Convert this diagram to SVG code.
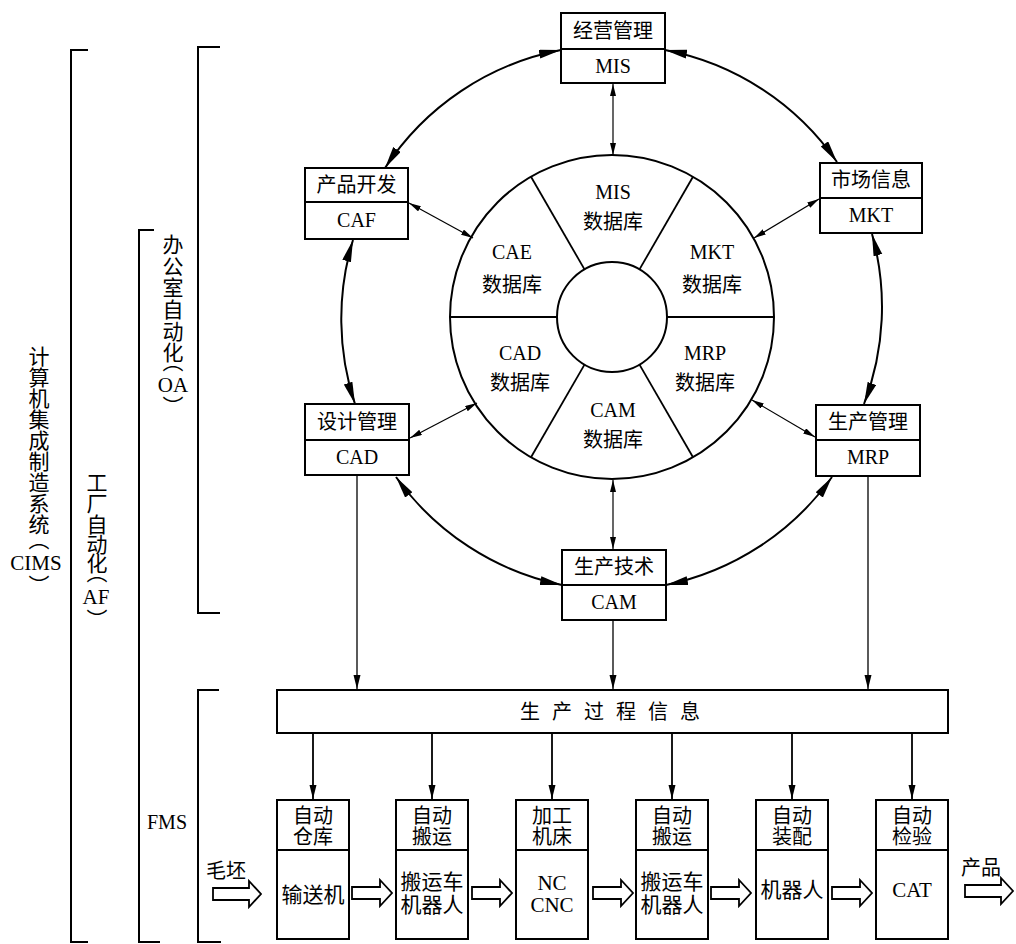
<svg xmlns="http://www.w3.org/2000/svg" width="1016" height="944" viewBox="0 0 1016 944">
<style>
text { font-family: "Liberation Serif", "Noto Sans CJK SC", serif; font-size: 20px; fill: #000; text-anchor: middle; dominant-baseline: central; }
tspan { dominant-baseline: central; }
.lg { font-size: 21px; }
.box { fill: #fff; stroke: #000; stroke-width: 2; }
.div { stroke: #000; stroke-width: 2; }
.brk { fill: none; stroke: #000; stroke-width: 2; }
.arc { fill: none; stroke: #000; stroke-width: 2; marker-start: url(#ah); marker-end: url(#ah); }
.thin { fill: none; stroke: #000; stroke-width: 1.2; marker-start: url(#as); marker-end: url(#as); }
.down { fill: none; stroke: #000; stroke-width: 1.3; marker-end: url(#am); }
.down2 { fill: none; stroke: #000; stroke-width: 1.8; marker-end: url(#am); }
.ring { fill: none; stroke: #000; stroke-width: 2; }
.spoke { stroke: #000; stroke-width: 1.8; }
.blk { fill: #fff; stroke: #000; stroke-width: 1.8; stroke-linejoin: miter; }
</style>
<defs>
<marker id="ah" markerUnits="userSpaceOnUse" markerWidth="24" markerHeight="10" refX="22" refY="4.5" orient="auto-start-reverse"><path d="M0,0 L22,4.5 L0,9 Z" fill="#000"/></marker>
<marker id="as" markerUnits="userSpaceOnUse" markerWidth="14" markerHeight="8" refX="12" refY="3" orient="auto-start-reverse"><path d="M0,0 L12,3 L0,6 Z" fill="#000"/></marker>
<marker id="am" markerUnits="userSpaceOnUse" markerWidth="16" markerHeight="8" refX="14" refY="3.5" orient="auto-start-reverse"><path d="M0,0 L14,3.5 L0,7 Z" fill="#000"/></marker>
<path id="barrow" d="M0,-6 H28 V-13 L40,0 L28,13 V6 H0 Z"/>
<path id="barrowL" d="M0,-6 H36 V-13 L48,0 L36,13 V6 H0 Z"/>
</defs>

<g id="brackets">
<path class="brk" d="M88,50 H71 V942 H88"/>
<path class="brk" d="M154,230 H139 V942 H160"/>
<path class="brk" d="M220,47 H198 V613 H220"/>
<path class="brk" d="M219,690 H198 V942 H221"/>
</g>

<g id="side-labels">
<text class="lg"><tspan x="39 39 39 39 39 39 39 39 39 39" y="357 378 399 420 441 462 483 504 525 540">计算机集成制造系统︵</tspan><tspan x="36" y="563">CIMS</tspan><tspan x="39" y="586">︶</tspan></text>
<text class="lg"><tspan x="97 97 97 97 97 97" y="483 504 525 545 564 573">工厂自动化︵</tspan><tspan x="96" y="597">AF</tspan><tspan x="97" y="620">︶</tspan></text>
<text class="lg"><tspan x="173 173 173 173 173 173 173" y="245 267 288 310 332 353 362">办公室自动化︵</tspan><tspan x="173" y="385">OA</tspan><tspan x="173" y="407">︶</tspan></text>
<text x="167" y="822">FMS</text>
</g>

<g id="database-wheel">
<circle class="ring" cx="612" cy="317" r="162"/>
<circle class="ring" cx="612" cy="317" r="55"/>
<line class="spoke" x1="450" y1="317" x2="557" y2="317"/>
<line class="spoke" x1="667" y1="317" x2="774" y2="317"/>
<line class="spoke" x1="584.5" y1="269.4" x2="531" y2="176.7"/>
<line class="spoke" x1="639.5" y1="269.4" x2="693" y2="176.7"/>
<line class="spoke" x1="584.5" y1="364.6" x2="531" y2="457.3"/>
<line class="spoke" x1="639.5" y1="364.6" x2="693" y2="457.3"/>
<text x="613" y="192">MIS</text><text x="613" y="222">数据库</text>
<text x="512" y="252">CAE</text><text x="512" y="285">数据库</text>
<text x="712" y="252">MKT</text><text x="712" y="285">数据库</text>
<text x="520" y="353">CAD</text><text x="520" y="383">数据库</text>
<text x="705" y="353">MRP</text><text x="705" y="383">数据库</text>
<text x="613" y="410">CAM</text><text x="613" y="440">数据库</text>
</g>

<g id="node-mis">
<rect class="box" x="561" y="13" width="104" height="70"/>
<line class="div" x1="561" y1="49" x2="665" y2="49"/>
<text x="613" y="31">经营管理</text><text x="613" y="66">MIS</text>
</g>
<g id="node-caf">
<rect class="box" x="305" y="168" width="103" height="71"/>
<line class="div" x1="305" y1="202" x2="408" y2="202"/>
<text x="356.5" y="185">产品开发</text><text x="356.5" y="220">CAF</text>
</g>
<g id="node-mkt">
<rect class="box" x="820" y="163" width="102" height="70"/>
<line class="div" x1="820" y1="198" x2="922" y2="198"/>
<text x="871" y="180">市场信息</text><text x="871" y="215">MKT</text>
</g>
<g id="node-cad">
<rect class="box" x="305" y="404" width="104" height="71"/>
<line class="div" x1="305" y1="440" x2="409" y2="440"/>
<text x="357" y="422">设计管理</text><text x="357" y="457">CAD</text>
</g>
<g id="node-mrp">
<rect class="box" x="816" y="405" width="104" height="71"/>
<line class="div" x1="816" y1="440" x2="920" y2="440"/>
<text x="868" y="422">生产管理</text><text x="868" y="457">MRP</text>
</g>
<g id="node-cam">
<rect class="box" x="562" y="550" width="104" height="70"/>
<line class="div" x1="562" y1="585" x2="666" y2="585"/>
<text x="614" y="567">生产技术</text><text x="614" y="602">CAM</text>
</g>

<g id="node-info-bar">
<rect class="box" x="277" y="690" width="671" height="43"/>
<text x="530 562 594 626 658 690" y="712">生产过程信息</text>
</g>

<g id="node-warehouse">
<rect class="box" x="277" y="800" width="72" height="139"/>
<line class="div" x1="277" y1="850" x2="349" y2="850"/>
<text x="313" y="816">自动</text><text x="313" y="837">仓库</text>
<text class="lg" x="313" y="895">输送机</text>
</g>
<g id="node-transport1">
<rect class="box" x="396" y="800" width="72" height="139"/>
<line class="div" x1="396" y1="850" x2="468" y2="850"/>
<text x="432" y="816">自动</text><text x="432" y="837">搬运</text>
<text class="lg" x="432" y="882">搬运车</text><text class="lg" x="432" y="905">机器人</text>
</g>
<g id="node-machine">
<rect class="box" x="516" y="800" width="72" height="139"/>
<line class="div" x1="516" y1="850" x2="588" y2="850"/>
<text x="552" y="816">加工</text><text x="552" y="837">机床</text>
<text class="lg" x="552" y="883">NC</text><text class="lg" x="552" y="905">CNC</text>
</g>
<g id="node-transport2">
<rect class="box" x="636" y="800" width="72" height="139"/>
<line class="div" x1="636" y1="850" x2="708" y2="850"/>
<text x="672" y="816">自动</text><text x="672" y="837">搬运</text>
<text class="lg" x="672" y="882">搬运车</text><text class="lg" x="672" y="905">机器人</text>
</g>
<g id="node-assembly">
<rect class="box" x="756" y="800" width="72" height="139"/>
<line class="div" x1="756" y1="850" x2="828" y2="850"/>
<text x="792" y="816">自动</text><text x="792" y="837">装配</text>
<text class="lg" x="792" y="890">机器人</text>
</g>
<g id="node-inspection">
<rect class="box" x="876" y="800" width="72" height="139"/>
<line class="div" x1="876" y1="850" x2="948" y2="850"/>
<text x="912" y="816">自动</text><text x="912" y="837">检验</text>
<text class="lg" x="912" y="890">CAT</text>
</g>

<g id="connectors">
<path class="arc" d="M385,168 A271,271 0 0 1 561,50"/>
<path class="arc" d="M665,50 A271,271 0 0 1 837,162"/>
<path class="arc" d="M353,240 A271,271 0 0 0 355,404"/>
<path class="arc" d="M872,234 A271,271 0 0 1 864,404"/>
<path class="arc" d="M396,477 A271,271 0 0 0 562,585"/>
<path class="arc" d="M832,477 A271,271 0 0 1 666,585"/>
<line class="thin" x1="613" y1="84" x2="613" y2="155"/>
<line class="thin" x1="613" y1="480" x2="613" y2="549"/>
<line class="thin" x1="409" y1="203" x2="473" y2="238"/>
<line class="thin" x1="410" y1="438" x2="477" y2="403"/>
<line class="thin" x1="819" y1="199" x2="754" y2="238"/>
<line class="thin" x1="815" y1="437" x2="752" y2="400"/>
<line class="down" x1="357" y1="475" x2="357" y2="689"/>
<line class="down" x1="613" y1="620" x2="613" y2="689"/>
<line class="down" x1="868" y1="476" x2="868" y2="689"/>
<line class="down2" x1="313" y1="733" x2="313" y2="799"/>
<line class="down2" x1="432" y1="733" x2="432" y2="799"/>
<line class="down2" x1="552" y1="733" x2="552" y2="799"/>
<line class="down2" x1="672" y1="733" x2="672" y2="799"/>
<line class="down2" x1="792" y1="733" x2="792" y2="799"/>
<line class="down2" x1="912" y1="733" x2="912" y2="799"/>
<use href="#barrowL" class="blk" x="213" y="894"/>
<use href="#barrow" class="blk" x="352" y="893"/>
<use href="#barrow" class="blk" x="472" y="893"/>
<use href="#barrow" class="blk" x="593" y="893"/>
<use href="#barrow" class="blk" x="711" y="893"/>
<use href="#barrow" class="blk" x="832" y="893"/>
<use href="#barrowL" class="blk" x="965" y="891"/>
<text x="226" y="871">毛坯</text>
<text x="981" y="868">产品</text>
</g>
</svg>
